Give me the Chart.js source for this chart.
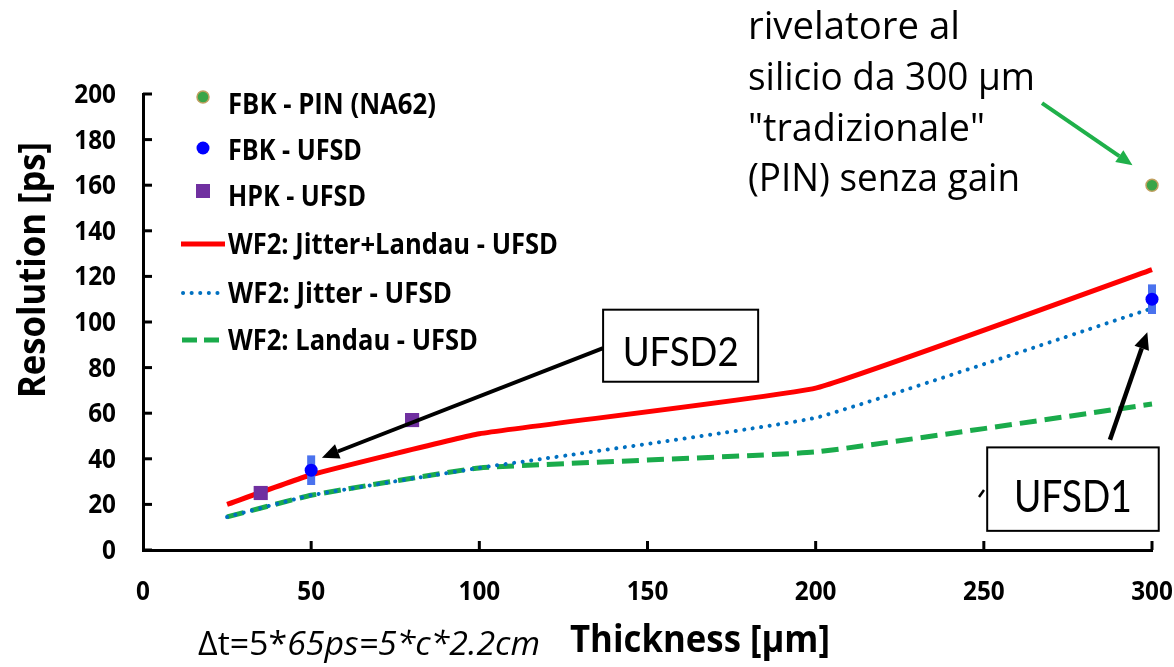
<!DOCTYPE html>
<html lang="it">
<head>
<meta charset="UTF-8">
<title>Resolution vs Thickness</title>
<script src="https://cdn.jsdelivr.net/npm/chart.js"></script>
<style>
    html, body { margin: 0; padding: 0; background: #ffffff; }
    #wrap { width: 1174px; height: 667px; position: relative; }
</style>
</head>
<body>
<div id="wrap"><canvas id="myChart" width="1174" height="667"></canvas></div>

<script>
// valori
var thickness = [25, 50, 100, 200, 300];
var jitterLandau = [20, 33, 51, 71, 123];
var jitterOnly = [14.5, 24, 36, 58, 106];
var landauOnly = [14.5, 24, 36, 43, 64];

var pinX = [300];
var pinY = [160];
var fbkX = [50, 300];
var fbkY = [35, 110];
var fbkErr = [6.5, 6.5];
var hpkX = [35, 80];
var hpkY = [25, 57];

var xTicks = [0, 50, 100, 150, 200, 250, 300];
var yTicks = [0, 20, 40, 60, 80, 100, 120, 140, 160, 180, 200];

var labels = ['FBK - PIN (NA62)', 'FBK - UFSD', 'HPK - UFSD',
              'WF2: Jitter+Landau - UFSD', 'WF2: Jitter - UFSD', 'WF2: Landau - UFSD'];

function pts(xs, ys) {
    return xs.map(function (x, i) { return { x: x, y: ys[i] }; });
}

// testo compresso in larghezza (simula Calibri)
function fitText(ctx, text, x, y, font, sx, align) {
    ctx.save();
    ctx.font = font;
    ctx.textAlign = align || 'left';
    ctx.textBaseline = 'alphabetic';
    ctx.translate(x, y);
    ctx.scale(sx, 1);
    ctx.fillText(text, 0, 0);
    ctx.restore();
}

function widthText(ctx, text, x, y, font, width, align) {
    ctx.save();
    ctx.font = font;
    var w = ctx.measureText(text).width;
    ctx.restore();
    fitText(ctx, text, x, y, font, width / w, align);
}

function arrow(ctx, x1, y1, x2, y2, color, lw, head) {
    var a = Math.atan2(y2 - y1, x2 - x1);
    var bx = x2 - Math.cos(a) * head;
    var by = y2 - Math.sin(a) * head;
    ctx.save();
    ctx.strokeStyle = color;
    ctx.fillStyle = color;
    ctx.lineWidth = lw;
    ctx.beginPath();
    ctx.moveTo(x1, y1);
    ctx.lineTo(bx, by);
    ctx.stroke();
    ctx.beginPath();
    ctx.moveTo(x2, y2);
    ctx.lineTo(bx + Math.sin(a) * head * 0.45, by - Math.cos(a) * head * 0.45);
    ctx.lineTo(bx - Math.sin(a) * head * 0.45, by + Math.cos(a) * head * 0.45);
    ctx.closePath();
    ctx.fill();
    ctx.restore();
}

// barre d'errore per FBK - UFSD
var errorBars = {
    id: 'errorBars',
    beforeDatasetDraw: function (chart, args) {
        if (args.index !== 1) return;
        var ctx = chart.ctx, xs = chart.scales.x, ys = chart.scales.y;
        ctx.save();
        ctx.strokeStyle = '#4a72ee';
        ctx.lineWidth = 8;
        for (var i = 0; i < fbkX.length; i++) {
            var px = xs.getPixelForValue(fbkX[i]);
            ctx.beginPath();
            ctx.moveTo(px, ys.getPixelForValue(fbkY[i] - fbkErr[i]));
            ctx.lineTo(px, ys.getPixelForValue(fbkY[i] + fbkErr[i]));
            ctx.stroke();
        }
        ctx.restore();
    }
};

// assi: tacche interne, etichette e titoli
var axesPlugin = {
    id: 'axesPlugin',
    afterDraw: function (chart) {
        var ctx = chart.ctx, xs = chart.scales.x, ys = chart.scales.y;
        var area = chart.chartArea;
        ctx.save();
        ctx.strokeStyle = '#000';
        ctx.lineWidth = 3;
        yTicks.forEach(function (v) {
            var py = ys.getPixelForValue(v);
            ctx.beginPath();
            ctx.moveTo(area.left, py);
            ctx.lineTo(area.left + 9, py);
            ctx.stroke();
        });
        xTicks.forEach(function (v) {
            if (v === 0) return;
            var px = xs.getPixelForValue(v);
            ctx.beginPath();
            ctx.moveTo(px, area.bottom);
            ctx.lineTo(px, area.bottom - 9);
            ctx.stroke();
        });
        ctx.fillStyle = '#000';
        yTicks.forEach(function (v) {
            fitText(ctx, String(v), 116, ys.getPixelForValue(v) + 9, 'bold 27px "Open Sans"', 0.9, 'right');
        });
        xTicks.forEach(function (v) {
            fitText(ctx, String(v), xs.getPixelForValue(v), 600, 'bold 27px "Open Sans"', 0.9, 'center');
        });
        // titoli
        ctx.save();
        ctx.translate(45, 270);
        ctx.rotate(-Math.PI / 2);
        widthText(ctx, 'Resolution [ps]', 0, 0, 'bold 38px "Open Sans"', 256, 'center');
        ctx.restore();
        widthText(ctx, 'Thickness [\u00b5m]', 700, 652, 'bold 38px "Open Sans"', 260, 'center');
        ctx.restore();
    }
};

// legenda disegnata dentro l'area del grafico
var legendPlugin = {
    id: 'legendPlugin',
    afterDraw: function (chart) {
        var ctx = chart.ctx;
        var rows = [104, 150, 196, 244, 293, 340];
        var widths = [208, 134, 138, 330, 224, 250];
        ctx.save();
        ctx.fillStyle = '#000';
        for (var i = 0; i < labels.length; i++) {
            widthText(ctx, labels[i], 228, rows[i] + 10, 'bold 28px "Open Sans"', widths[i], 'left');
        }
        // marcatori
        ctx.beginPath();
        ctx.arc(203, 97, 6, 0, Math.PI * 2);
        ctx.fillStyle = '#3aa548';
        ctx.fill();
        ctx.strokeStyle = '#c0a060';
        ctx.lineWidth = 1.5;
        ctx.stroke();
        ctx.beginPath();
        ctx.arc(203, 148, 6.5, 0, Math.PI * 2);
        ctx.fillStyle = '#0000ff';
        ctx.fill();
        ctx.fillStyle = '#7030a0';
        ctx.fillRect(196, 184, 14, 14);
        ctx.lineWidth = 5;
        ctx.strokeStyle = '#ff0000';
        ctx.beginPath(); ctx.moveTo(181, 244); ctx.lineTo(225, 244); ctx.stroke();
        ctx.lineWidth = 4;
        ctx.strokeStyle = '#0070c0';
        ctx.lineCap = 'round';
        ctx.setLineDash([0.1, 8.5]);
        ctx.beginPath(); ctx.moveTo(183, 293); ctx.lineTo(224, 293); ctx.stroke();
        ctx.lineCap = 'butt';
        ctx.lineWidth = 5;
        ctx.strokeStyle = '#1aab4b';
        ctx.setLineDash([15, 7]);
        ctx.beginPath(); ctx.moveTo(182, 340); ctx.lineTo(226, 340); ctx.stroke();
        ctx.restore();
    }
};

// note e frecce
var notesPlugin = {
    id: 'notesPlugin',
    afterDraw: function (chart) {
        var ctx = chart.ctx, xs = chart.scales.x, ys = chart.scales.y;
        function X(v) { return xs.getPixelForValue(v); }
        function Y(v) { return ys.getPixelForValue(v); }
        ctx.save();
        ctx.fillStyle = '#000';

        // UFSD2
        arrow(ctx, X(136.8), Y(88.5), X(53.2), Y(40.5), '#000', 4, 17);
        ctx.fillStyle = '#fff';
        ctx.fillRect(X(136.8), Y(105.4), X(182.9) - X(136.8), Y(73.8) - Y(105.4));
        ctx.strokeStyle = '#000';
        ctx.lineWidth = 2;
        ctx.strokeRect(X(136.8), Y(105.4), X(182.9) - X(136.8), Y(73.8) - Y(105.4));
        ctx.fillStyle = '#000';
        widthText(ctx, 'UFSD2', (X(136.8) + X(182.9)) / 2, 366, '40px Lato', 116, 'center');

        // UFSD1
        arrow(ctx, X(287.5), Y(48.4), X(298.6), Y(95.5), '#000', 4.5, 17);
        ctx.fillStyle = '#fff';
        ctx.fillRect(X(251), Y(45), X(302) - X(251), Y(8.4) - Y(45));
        ctx.strokeRect(X(251), Y(45), X(302) - X(251), Y(8.4) - Y(45));
        ctx.fillStyle = '#000';
        widthText(ctx, 'UFSD1', (X(251) + X(302)) / 2, 512, '44px Lato', 118, 'center');
        ctx.lineWidth = 2.5;
        ctx.beginPath(); ctx.moveTo(979, 497); ctx.lineTo(984, 490); ctx.stroke();

        // freccia verde verso il PIN
        arrow(ctx, X(267.3), Y(196), X(294.2), Y(168.8), '#1fb04a', 4, 16);

        // testo in alto a destra
        ctx.fillStyle = '#000';
        var tx = 748;
        widthText(ctx, 'rivelatore al', tx, 39, '38px "Open Sans"', 212, 'left');
        widthText(ctx, 'silicio da 300 \u00b5m', tx, 90, '38px "Open Sans"', 287, 'left');
        widthText(ctx, '"tradizionale"', tx, 141, '38px "Open Sans"', 237, 'left');
        widthText(ctx, '(PIN) senza gain', tx, 191, '38px "Open Sans"', 272, 'left');

        // formula in basso
        ctx.font = '32px "Open Sans"';
        var part1 = '\u0394t=5*';
        var w1 = ctx.measureText(part1).width;
        ctx.font = 'italic 32px "Open Sans"';
        var part2 = '65ps=5*c*2.2cm';
        var w2 = ctx.measureText(part2).width;
        var sx = 342 / (w1 + w2);
        fitText(ctx, part1, 198, 655, '32px "Open Sans"', sx, 'left');
        fitText(ctx, part2, 198 + w1 * sx, 655, 'italic 32px "Open Sans"', sx, 'left');
        ctx.restore();
    }
};

var ctx = document.getElementById('myChart').getContext('2d');
var myChart = new Chart(ctx, {
    type: 'line',
    data: {
        datasets: [
            {
                type: 'scatter',
                label: labels[0],
                data: pts(pinX, pinY),
                pointRadius: 6,
                pointBackgroundColor: '#3aa548',
                pointBorderColor: '#c0a060',
                pointBorderWidth: 1.5,
                clip: false
            },
            {
                type: 'scatter',
                label: labels[1],
                data: pts(fbkX, fbkY),
                pointRadius: 6.5,
                pointBackgroundColor: '#0000ff',
                pointBorderWidth: 0,
                clip: false
            },
            {
                type: 'scatter',
                label: labels[2],
                data: pts(hpkX, hpkY),
                pointStyle: 'rect',
                pointRadius: 10,
                pointBackgroundColor: '#7030a0',
                pointBorderWidth: 0,
                clip: false
            },
            {
                label: labels[3],
                data: pts(thickness, jitterLandau),
                borderColor: '#ff0000',
                borderWidth: 5,
                pointRadius: 0,
                tension: 0.1,
                fill: false,
                clip: false
            },
            {
                label: labels[4],
                data: pts(thickness, jitterOnly),
                borderColor: '#0070c0',
                borderWidth: 4,
                borderDash: [0.1, 8.5],
                borderCapStyle: 'round',
                pointRadius: 0,
                tension: 0.1,
                fill: false,
                clip: false
            },
            {
                label: labels[5],
                data: pts(thickness, landauOnly),
                borderColor: '#1aab4b',
                borderWidth: 5,
                borderDash: [17, 8],
                pointRadius: 0,
                tension: 0.1,
                fill: false,
                clip: false
            }
        ]
    },
    options: {
        responsive: false,
        animation: false,
        layout: { padding: { left: 0, top: 94, right: 22, bottom: 0 } },
        plugins: {
            legend: { display: false },
            tooltip: { enabled: false }
        },
        scales: {
            x: {
                type: 'linear',
                min: 0,
                max: 300,
                grid: { display: false, drawTicks: false },
                border: { display: true, color: '#000', width: 3 },
                ticks: { display: false, stepSize: 50 },
                afterFit: function (scale) { scale.height = 117; }
            },
            y: {
                min: 0,
                max: 200,
                grid: { display: false, drawTicks: false },
                border: { display: true, color: '#000', width: 3 },
                ticks: { display: false, stepSize: 20 },
                afterFit: function (scale) { scale.width = 143; }
            }
        }
    },
    plugins: [errorBars, axesPlugin, legendPlugin, notesPlugin]
});
</script>

</body>
</html>
